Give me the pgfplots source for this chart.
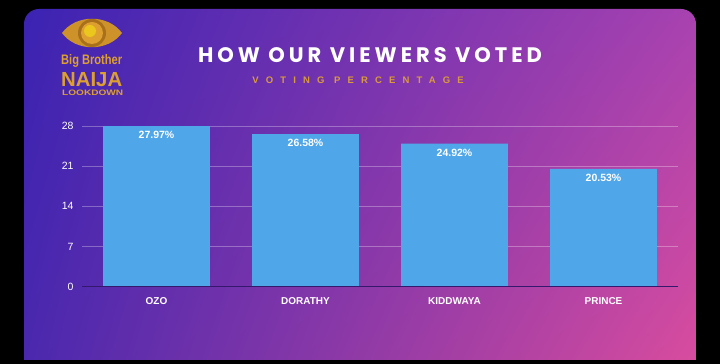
\documentclass[border=0pt]{standalone}
\usepackage{pgfplots}
\pgfplotsset{compat=1.18}
\usetikzlibrary{shadings}
\usepackage{graphicx}
\usepackage{fontspec}
\setmainfont{Liberation Sans}
\newfontfamily\titlefont{Poppins}
\definecolor{ul}{HTML}{3B23B2}
\definecolor{ll}{HTML}{4A28AE}
\definecolor{ur}{HTML}{A842B0}
\definecolor{lr}{HTML}{D84C9E}
\definecolor{barcol}{HTML}{4FA6E8}
\definecolor{basecol}{HTML}{33186E}
\definecolor{gold}{HTML}{DDA030}
\definecolor{darkgold}{HTML}{A8701A}
\definecolor{subgold}{HTML}{D99A3C}
\begin{document}
\begin{tikzpicture}[x=1pt,y=1pt]
\useasboundingbox (0,0) rectangle (720,364);
\fill[black] (0,0) rectangle (720,364);
\shade[upper left=ul, lower left=ll, upper right=ur, lower right=lr]
  (24,4) -- (24,340) arc[start angle=180,end angle=90,radius=15] -- (681,355)
  arc[start angle=90,end angle=0,radius=15] -- (696,4) -- cycle;
% logo
\fill[gold!70!darkgold] (62,331) .. controls (76,350) and (108,350) .. (122,331)
  .. controls (108,312) and (76,312) .. (62,331) -- cycle;
\fill[darkgold] (92,331) circle[radius=14];
\fill[gold] (92,331) circle[radius=11];
\fill[gold!60!yellow] (90,333) circle[radius=6];
\node[text=gold, anchor=base west, inner sep=0] at (61,299) {\resizebox{61pt}{10pt}{\bfseries Big Brother}};
\node[text=gold, anchor=base west, inner sep=0] at (61,277) {\resizebox{61pt}{14pt}{\bfseries NAIJA}};
\node[text=gold, anchor=base west, inner sep=0] at (62,268) {\resizebox{61pt}{5.5pt}{\bfseries LOOKDOWN}};
% titles
\node[text=white, anchor=base, inner sep=0] at (370,301) {\titlefont\bfseries\addfontfeature{LetterSpace=19}\fontsize{21}{21}\selectfont HOW OUR VIEWERS VOTED};
\node[text=subgold, anchor=base, inner sep=0] at (358,280) {\addfontfeature{LetterSpace=75}\bfseries\fontsize{9.5}{9.5}\selectfont VOTING PERCENTAGE};
\begin{axis}[
  at={(156.5pt,77.3pt)}, anchor=origin,
  scale only axis, width=596pt, height=160.7pt,
  xmin=-0.5, xmax=3.5, ymin=0, ymax=28,
  ybar, bar width=0.718,
  xtick={0,1,2,3}, xticklabels={OZO,DORATHY,KIDDWAYA,PRINCE},
  ytick={0,7,14,21,28},
  axis line style={draw=none}, tick style={draw=none},
  ymajorgrids, grid style={white, opacity=0.3, line width=0.7pt},
  /pgf/number format/assume math mode=true,
  yticklabel style={text=white, font=\fontsize{10.5}{10.5}\selectfont, xshift=-5pt},
  xticklabel style={text=white, font=\bfseries\fontsize{10}{10}\selectfont, yshift=-3pt},
  nodes near coords={\pgfmathprintnumber[fixed,precision=2,fixed zerofill]{\pgfplotspointmeta}\%},
  every node near coord/.append style={anchor=north, text=white, font=\bfseries\fontsize{10.5}{10.5}\selectfont, yshift=-1.5pt},
]
\addplot[fill=barcol, draw=none] coordinates {(0,27.97) (1,26.58) (2,24.92) (3,20.53)};
\draw[basecol, line width=1.3pt] (axis cs:-0.5,0) -- (axis cs:3.5,0);
\end{axis}
\end{tikzpicture}
\end{document}
